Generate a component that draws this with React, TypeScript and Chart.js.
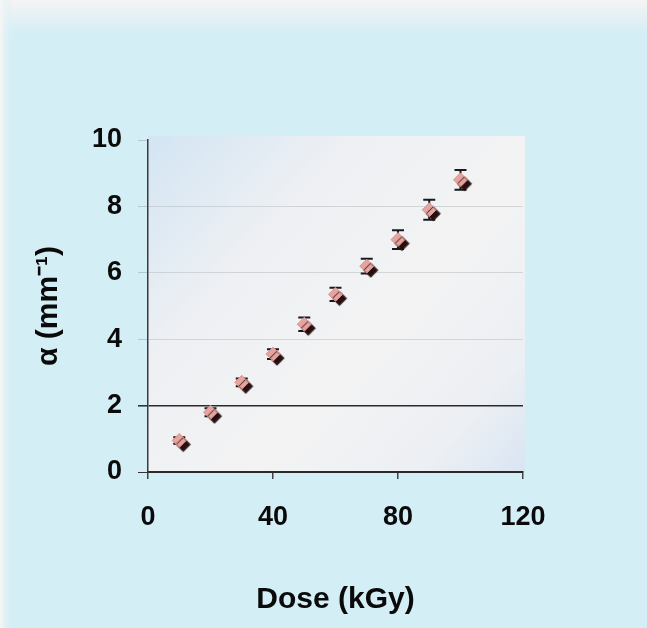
import React, { useEffect, useRef } from "react";
import { Chart, registerables } from "chart.js";

Chart.register(...registerables);

// ---- data ----
const doses = [10, 20, 30, 40, 50, 60, 70, 80, 90, 100];
const alphaValues = [0.95, 1.8, 2.7, 3.55, 4.45, 5.35, 6.2, 7.0, 7.9, 8.8];
const alphaErrors = [0.1, 0.12, 0.12, 0.15, 0.2, 0.2, 0.22, 0.28, 0.3, 0.3];
const xTickValues = [0, 40, 80, 120];
const yTickValues = [0, 2, 4, 6, 8, 10];
const xTitle = "Dose (kGy)";
const yTitle = "\u03b1 (mm\u207b\u00b9)";

const FONT = "'Liberation Sans', Arial, sans-serif";

const backgroundPlugin = {
  id: "bgPaint",
  beforeDraw(chart: any) {
    const { ctx, width, height, chartArea } = chart;
    ctx.save();
    ctx.fillStyle = "#d4eef5";
    ctx.fillRect(0, 0, width, height);
    const gTop = ctx.createLinearGradient(0, 0, 0, 40);
    gTop.addColorStop(0, "rgba(246,244,244,1)");
    gTop.addColorStop(0.5, "rgba(235,242,245,0.6)");
    gTop.addColorStop(1, "rgba(212,238,245,0)");
    ctx.fillStyle = gTop;
    ctx.fillRect(0, 0, width, 40);
    const gLeft = ctx.createLinearGradient(0, 0, 14, 0);
    gLeft.addColorStop(0, "rgba(246,246,246,1)");
    gLeft.addColorStop(1, "rgba(212,238,245,0)");
    ctx.fillStyle = gLeft;
    ctx.fillRect(0, 0, 14, height);
    const { left, right, top, bottom } = chartArea;
    const g = ctx.createLinearGradient(left, top, right, bottom);
    g.addColorStop(0, "#d3e5f3");
    g.addColorStop(0.3, "#eef0f3");
    g.addColorStop(0.6, "#f3f3f3");
    g.addColorStop(0.85, "#eceff3");
    g.addColorStop(1, "#d9e5f3");
    ctx.fillStyle = g;
    ctx.fillRect(left, top - 4, right - left + 2, bottom - top + 4);
    ctx.restore();
  },
};

const errorBarPlugin = {
  id: "errorBars",
  beforeDatasetsDraw(chart: any) {
    const { ctx } = chart;
    const xs = chart.scales.x;
    const ys = chart.scales.y;
    ctx.save();
    ctx.strokeStyle = "#1a1a1a";
    ctx.lineWidth = 2;
    doses.forEach((d, i) => {
      const px = xs.getPixelForValue(d);
      const hi = ys.getPixelForValue(alphaValues[i] + alphaErrors[i]);
      const lo = ys.getPixelForValue(alphaValues[i] - alphaErrors[i]);
      ctx.beginPath();
      ctx.moveTo(px, hi);
      ctx.lineTo(px, lo);
      ctx.moveTo(px - 6, hi);
      ctx.lineTo(px + 6, hi);
      ctx.moveTo(px - 6, lo);
      ctx.lineTo(px + 6, lo);
      ctx.stroke();
    });
    ctx.restore();
  },
};

const shadowPlugin = {
  id: "markerShadow",
  beforeDatasetDraw(chart: any) {
    const { ctx } = chart;
    ctx.save();
    ctx.shadowColor = "rgba(40,15,15,1)";
    ctx.shadowOffsetX = 4;
    ctx.shadowOffsetY = 4;
    ctx.shadowBlur = 1;
  },
  afterDatasetDraw(chart: any) {
    chart.ctx.restore();
  },
};

export default function App() {
  const ref = useRef<HTMLCanvasElement | null>(null);

  useEffect(() => {
    if (!ref.current) return;
    const chart = new Chart(ref.current, {
      type: "scatter",
      data: {
        datasets: [
          {
            label: "alpha",
            data: doses.map((d, i) => ({ x: d, y: alphaValues[i] })),
            pointStyle: "rectRot",
            pointRadius: 7,
            backgroundColor: "#e6a4a0",
            borderColor: "#d8958f",
            borderWidth: 1,
          },
        ],
      },
      options: {
        responsive: false,
        animation: false,
        layout: { padding: { left: 31, right: 124, top: 140, bottom: 10 } },
        plugins: {
          legend: { display: false },
          tooltip: { enabled: false },
        },
        scales: {
          x: {
            type: "linear",
            min: 0,
            max: 120,
            afterBuildTicks: (scale: any) => {
              scale.ticks = xTickValues.map((v) => ({ value: v }));
            },
            afterFit: (scale: any) => {
              scale.height = 146;
            },
            ticks: {
              color: "#0a0a0a",
              font: { family: FONT, weight: "bold", size: 27 },
              padding: 22,
              callback: (v: any) => String(v),
            },
            grid: {
              drawOnChartArea: false,
              tickLength: 7,
              tickColor: "#444",
              lineWidth: 1.5,
            },
            border: { color: "#2a2a2a", width: 2 },
            title: {
              display: true,
              text: xTitle,
              color: "#0a0a0a",
              font: { family: FONT, weight: "bold", size: 30 },
              padding: { top: 0, bottom: 0 },
            },
          },
          y: {
            type: "linear",
            min: 0,
            max: 10,
            afterBuildTicks: (scale: any) => {
              scale.ticks = yTickValues.map((v) => ({ value: v }));
            },
            afterFit: (scale: any) => {
              scale.width = 117;
            },
            ticks: {
              color: "#0a0a0a",
              font: { family: FONT, weight: "bold", size: 27 },
              padding: 16,
              callback: (v: any) => String(v),
            },
            grid: {
              tickLength: 10,
              color: (c: any) => {
                const v = c.tick && c.tick.value;
                if (v === 2) return "#2b2b2b";
                if (v === 0 || v === 10) return "rgba(0,0,0,0)";
                return "rgba(175,180,185,0.45)";
              },
              tickColor: (c: any) => {
                const v = c.tick && c.tick.value;
                if (v === 0 || v === 2) return "#333";
                return "rgba(120,130,140,0.35)";
              },
              lineWidth: (c: any) => (c.tick && c.tick.value === 2 ? 1.6 : 1),
            },
            border: { color: "#3a3a3a", width: 1.5 },
            title: {
              display: true,
              text: yTitle,
              color: "#0a0a0a",
              font: { family: FONT, weight: "bold", size: 30 },
              padding: { top: 0, bottom: 0 },
            },
          },
        },
      },
      plugins: [backgroundPlugin, errorBarPlugin, shadowPlugin],
    } as any);
    return () => chart.destroy();
  }, []);

  return (
    <div style={{ position: "fixed", left: 0, top: 0, width: 647, height: 628 }}>
      <canvas ref={ref} width={647} height={628} style={{ display: "block" }} />
    </div>
  );
}
